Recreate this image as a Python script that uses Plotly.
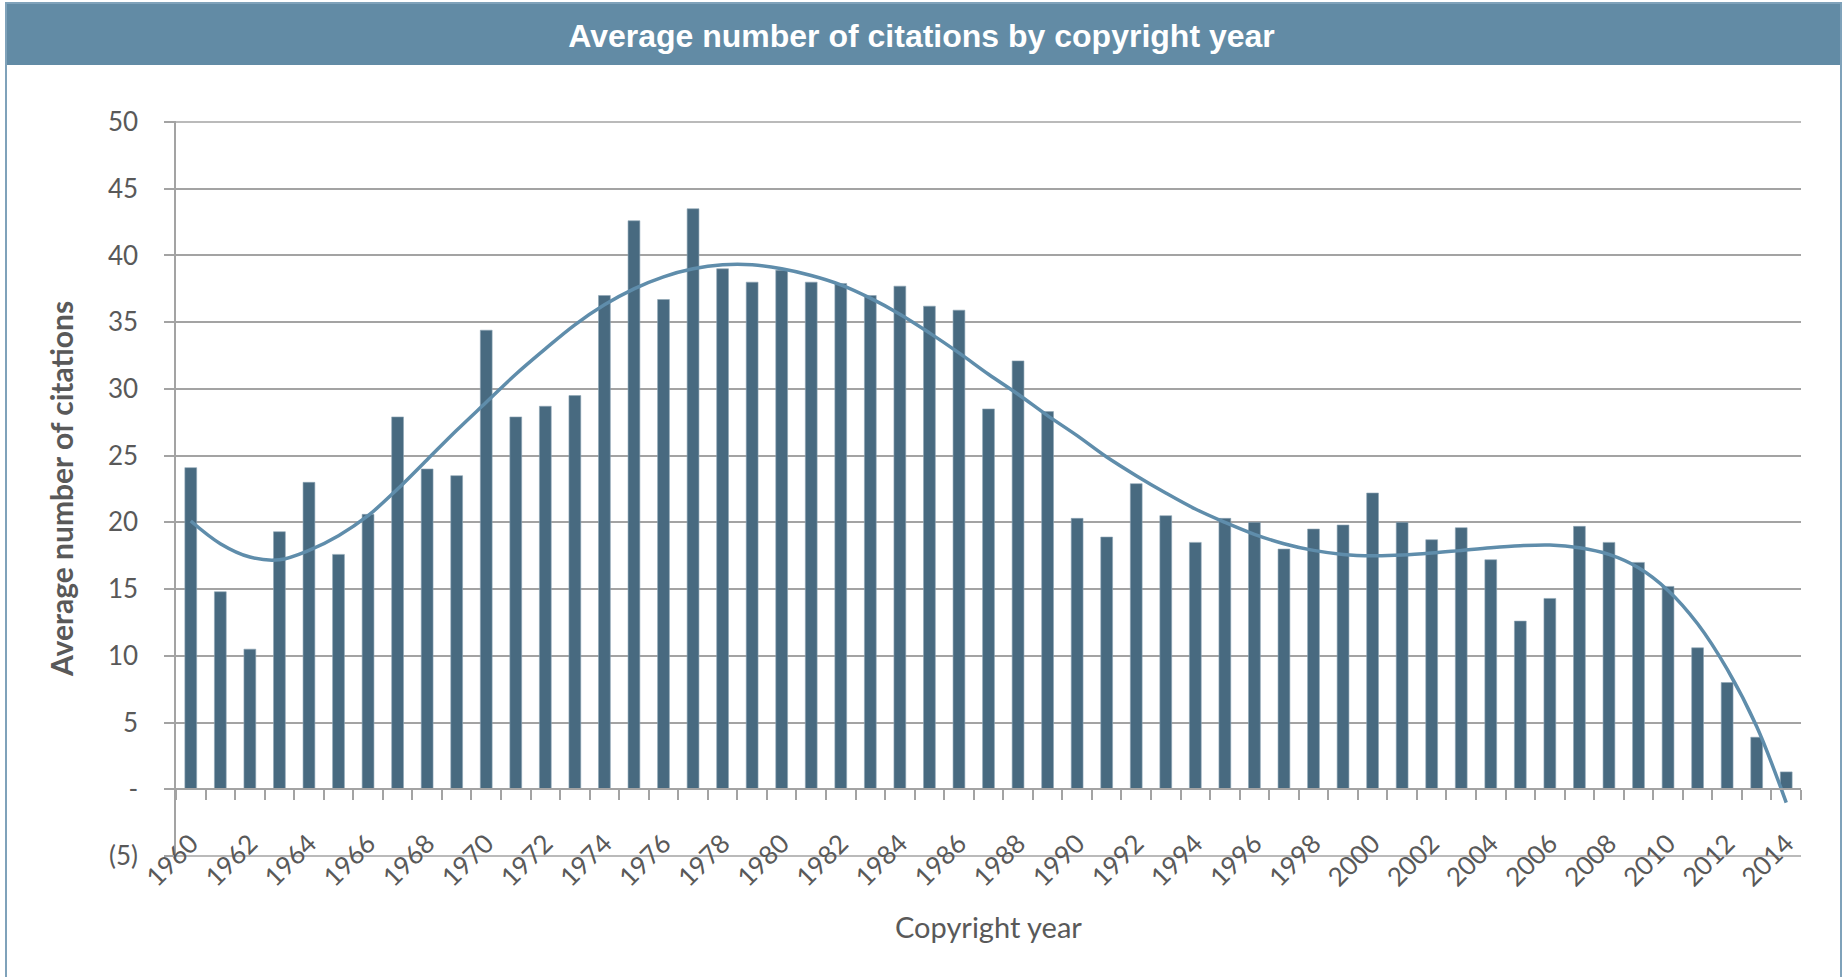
import plotly.graph_objects as go

years = list(range(1960, 2015))
avg_citations = [
    24.1, 14.8, 10.5, 19.3, 23.0, 17.6, 20.6, 27.9, 24.0, 23.5,
    34.4, 27.9, 28.7, 29.5, 37.0, 42.6, 36.7, 43.5, 39.0, 38.0,
    38.9, 38.0, 37.9, 37.0, 37.7, 36.2, 35.9, 28.5, 32.1, 28.3,
    20.3, 18.9, 22.9, 20.5, 18.5, 20.3, 20.0, 18.0, 19.5, 19.8,
    22.2, 20.0, 18.7, 19.6, 17.2, 12.6, 14.3, 19.7, 18.5, 17.0,
    15.2, 10.6, 8.0, 3.9, 1.3,
]
trend_values = [
    20.1, 18.4, 17.4, 17.2, 17.9, 19.0, 20.5, 22.5, 24.7, 26.9,
    29.0, 31.1, 33.0, 34.8, 36.3, 37.5, 38.4, 39.0, 39.3, 39.3,
    39.0, 38.5, 37.8, 36.8, 35.6, 34.2, 32.7, 31.1, 29.6, 28.0,
    26.5, 24.9, 23.5, 22.2, 21.0, 20.0, 19.1, 18.4, 17.9, 17.6,
    17.5, 17.55, 17.7, 17.9, 18.1, 18.25, 18.3, 18.1, 17.6, 16.6,
    14.9, 12.4, 9.0, 4.7, -1.0,
]
x_tick_years = list(range(1960, 2015, 2))
x_tick_labels = [str(y) for y in x_tick_years]
y_tick_vals = [-5, 0, 5, 10, 15, 20, 25, 30, 35, 40, 45, 50]
y_tick_text = ["(5)", "-", "5", "10", "15", "20", "25", "30", "35", "40", "45", "50"]

W, H = 1843, 977
L, R, T, B = 176, 42, 121, 120
pw, ph = W - L - R, H - T - B
Y_LO, Y_HI = -5.075, 50.075

def px_x(p):
    return (p - L) / pw

def px_y(p):
    return (H - B - p) / ph

GRID = "#A3A3A3"
TXT = "#595959"
FONT = "Lato"

fig = go.Figure()
fig.add_trace(go.Bar(
    x=years, y=avg_citations, width=0.4,
    marker=dict(color="#486A80", line=dict(width=0.6, color="#8FA6B5")),
    showlegend=False,
))
fig.add_trace(go.Scatter(
    x=years, y=trend_values, mode="lines",
    line=dict(color="#5F8DAB", width=3.5, shape="spline", smoothing=1.0),
    showlegend=False,
))

edge_grid = [
    dict(type="line", xref="paper", yref="y", layer="below",
         x0=0, x1=1, y0=v, y1=v, line=dict(color=GRID, width=1.5))
    for v in (y_tick_vals[0], y_tick_vals[-1])
]

fig.update_layout(
    width=W, height=H,
    margin=dict(l=L, r=R, t=T, b=B),
    paper_bgcolor="white", plot_bgcolor="white",
    font=dict(family=FONT, color=TXT),
    title=dict(
        text="<b>Average number of citations by copyright year</b>",
        x=0.5, xref="container", xanchor="center",
        y=1 - 36 / H, yref="container", yanchor="middle",
        font=dict(family="Liberation Sans, Arial", size=32, color="white"),
    ),
    xaxis=dict(
        range=[1959.5, 2014.5],
        tickmode="array", tickvals=x_tick_years, ticktext=x_tick_labels,
        tickangle=-45, ticks="", ticklabelstandoff=28,
        tickfont=dict(family=FONT, size=26, color=TXT),
        showgrid=False, zeroline=False,
        showline=True, linecolor=GRID, linewidth=1.5,
        anchor="free", position=(0 - Y_LO) / (Y_HI - Y_LO),
        minor=dict(tick0=1959.5, dtick=1, ticks="outside", ticklen=10,
                   tickwidth=1.5, tickcolor=GRID, showgrid=False),
    ),
    yaxis=dict(
        range=[Y_LO, Y_HI],
        tickmode="array", tickvals=y_tick_vals, ticktext=y_tick_text,
        ticks="outside", ticklen=10, tickwidth=1.5, tickcolor=GRID,
        ticklabelstandoff=21,
        tickfont=dict(family=FONT, size=26, color=TXT),
        showgrid=True, gridcolor=GRID, gridwidth=1.5,
        zeroline=False,
        showline=True, linecolor=GRID, linewidth=1.5,
    ),
    shapes=[
        dict(type="rect", xref="paper", yref="paper", layer="below",
             x0=px_x(6), x1=px_x(1840), y0=px_y(65), y1=px_y(3),
             fillcolor="#628BA5", line=dict(width=0)),
        dict(type="rect", xref="paper", yref="paper", layer="above",
             x0=px_x(6), x1=px_x(1841), y0=px_y(1000), y1=px_y(3),
             fillcolor="rgba(0,0,0,0)", line=dict(width=2, color="#7FA2BA")),
    ] + edge_grid,
    annotations=[
        dict(text="<b>Average number of citations</b>", textangle=-90,
             xref="paper", yref="paper", x=px_x(61), y=px_y(489),
             xanchor="center", yanchor="middle", showarrow=False,
             font=dict(family=FONT, size=30, color=TXT)),
        dict(text="Copyright year",
             xref="paper", yref="paper", x=0.5, y=px_y(926),
             xanchor="center", yanchor="middle", showarrow=False,
             font=dict(family=FONT, size=29, color=TXT)),
    ],
)

fig.write_html("out.html", config={"displayModeBar": False},
               post_script="document.body.style.margin='0';")
